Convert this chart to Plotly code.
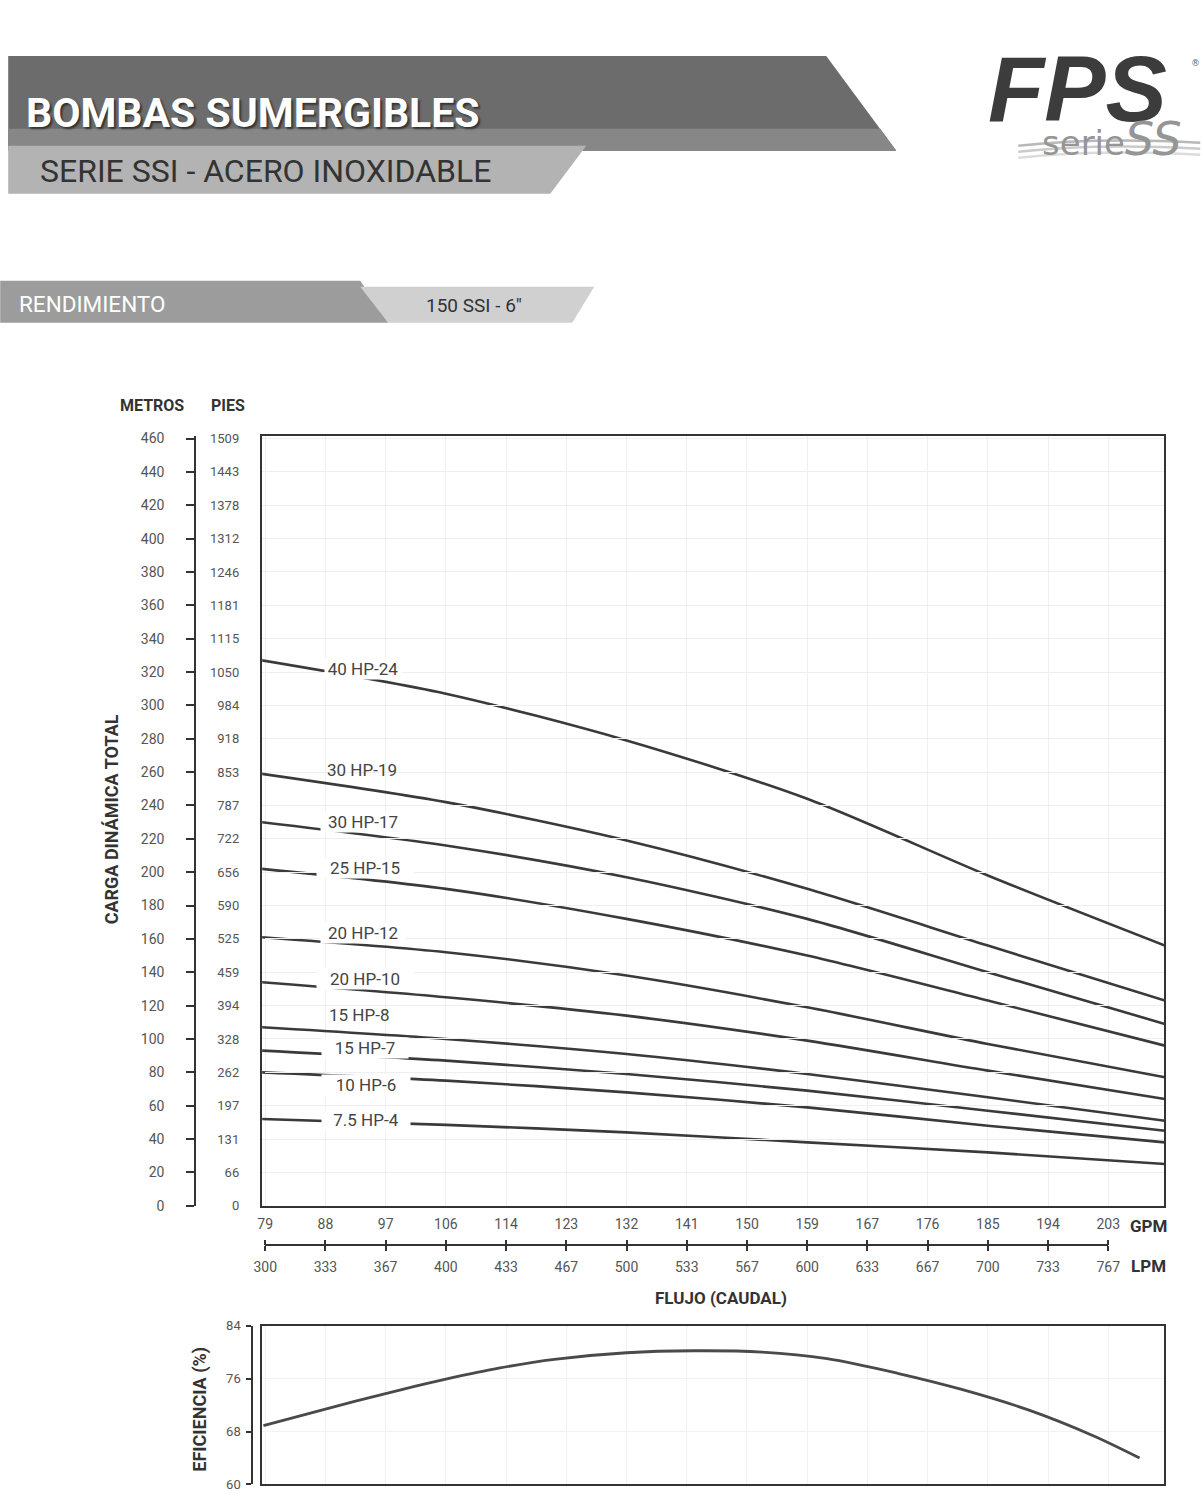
import plotly.graph_objects as go

# ---------------- page geometry helpers (reference pixels -> paper fractions) ----------------
W, H = 1204, 1494
# measured mapping between figure pixels and the photographed picture
SX, BX, SY, BY = 0.98, 11.8, 0.991, 6.0


def px(x):
    return ((x - BX) / SX) / W


def py(y):
    return 1 - ((y - BY) / SY) / H


FONT = "Roboto, Lato, sans-serif"
LINE = "#3a3a3a"

# ---------------- data ----------------
flow_lpm = [298, 400, 500, 600, 700, 798]

curve_names = ["40 HP-24", "30 HP-19", "30 HP-17", "25 HP-15", "20 HP-12",
               "20 HP-10", "15 HP-8", "15 HP-7", "10 HP-6", "7.5 HP-4"]

head_40hp_24 = [327, 307, 279, 244, 198, 156]
head_30hp_19 = [259, 242, 219, 190, 156, 123]
head_30hp_17 = [230, 216, 197, 172, 140, 109]
head_25hp_15 = [202, 190, 172, 150, 123, 96]
head_20hp_12 = [161, 152, 138, 119, 97, 77]
head_20hp_10 = [134, 125, 114, 99, 81, 64]
head_15hp_8 = [107, 100, 91, 79, 65, 51]
head_15hp_7 = [93, 87, 79, 69, 57, 45]
head_10hp_6 = [80, 75, 68, 59, 48, 38]
head_7hp5_4 = [52, 48.5, 44, 38, 32, 25]

heads = [head_40hp_24, head_30hp_19, head_30hp_17, head_25hp_15, head_20hp_12,
         head_20hp_10, head_15hp_8, head_15hp_7, head_10hp_6, head_7hp5_4]

eff_lpm = [299, 350, 375, 400, 430, 460, 500, 537, 575, 611, 650, 685, 722, 758, 784]
eff_pct = [68.9, 72.6, 74.3, 75.9, 77.6, 78.9, 79.9, 80.2, 80.0, 79.0, 76.8, 74.4, 71.3, 67.4, 64.0]

lpm_ticks = [300, 333.33, 366.67, 400, 433.33, 466.67, 500, 533.33, 566.67, 600,
             633.33, 666.67, 700, 733.33, 766.67]
lpm_labels = ["300", "333", "367", "400", "433", "467", "500", "533", "567", "600",
              "633", "667", "700", "733", "767"]
gpm_labels = ["79", "88", "97", "106", "114", "123", "132", "141", "150", "159",
              "167", "176", "185", "194", "203"]

metros_ticks = list(range(0, 461, 20))
pies_labels = ["0", "66", "131", "197", "262", "328", "394", "459", "525", "590", "656",
               "722", "787", "853", "918", "984", "1050", "1115", "1181", "1246", "1312",
               "1378", "1443", "1509"]
eff_ticks = [60, 68, 76, 84]

# ---------------- axis calibration (from reference pixels) ----------------
X_LEFT, X_RIGHT = 262, 1164          # plot box
LPM_PER_PX = (766.67 - 300) / (1108 - 265)
x_range = [300 - (265 - X_LEFT) * LPM_PER_PX, 300 + (X_RIGHT - 265) * LPM_PER_PX]
Y_TOP, Y_BOT = 435, 1206
M_PER_PX = 460 / (1206 - 438)
y_range = [0, (Y_BOT - Y_TOP) * M_PER_PX]
E_TOP, E_BOT = 1326, 1485
e_range = [60, 84]

fig = go.Figure()

for name, h in zip(curve_names, heads):
    fig.add_trace(go.Scatter(x=flow_lpm, y=h, mode="lines", name=name,
                             line=dict(color=LINE, width=2.6, shape="spline", smoothing=0.8),
                             xaxis="x", yaxis="y", showlegend=False, hoverinfo="x+y+name"))

fig.add_trace(go.Scatter(x=eff_lpm, y=eff_pct, mode="lines", name="Eficiencia",
                         line=dict(color="#4a4a4a", width=2.8, shape="spline", smoothing=0.9),
                         xaxis="x4", yaxis="y4", showlegend=False))

# invisible helper traces so every auxiliary axis is drawn
inv = dict(mode="markers", marker=dict(opacity=0), showlegend=False, hoverinfo="skip")
fig.add_trace(go.Scatter(x=[lpm_ticks[0]], y=[0], xaxis="x2", yaxis="y", **inv))
fig.add_trace(go.Scatter(x=[lpm_ticks[0]], y=[0], xaxis="x3", yaxis="y", **inv))
fig.add_trace(go.Scatter(x=[x_range[0]], y=[0], xaxis="x", yaxis="y2", **inv))
fig.add_trace(go.Scatter(x=[x_range[0]], y=[0], xaxis="x", yaxis="y3", **inv))
fig.add_trace(go.Scatter(x=[x_range[0]], y=[70], xaxis="x4", yaxis="y5", **inv))

tickfont = dict(family=FONT, size=14, color="#555555")

fig.update_layout(
    width=W, height=H, margin=dict(l=0, r=0, t=0, b=0),
    paper_bgcolor="white", plot_bgcolor="rgba(0,0,0,0)",
    font=dict(family=FONT, color="#333333"),
    xaxis=dict(domain=[px(X_LEFT), px(X_RIGHT)], range=x_range, anchor="y",
               tickvals=lpm_ticks, showticklabels=False, ticks="",
               showgrid=True, gridcolor="#efefef", gridwidth=1, zeroline=False,
               showline=True, mirror=True, linecolor="#333333", linewidth=2.2),
    yaxis=dict(domain=[py(Y_BOT), py(Y_TOP)], range=y_range, anchor="x",
               tickvals=metros_ticks, showticklabels=False, ticks="",
               showgrid=True, gridcolor="#efefef", gridwidth=1, zeroline=False,
               showline=True, mirror=True, linecolor="#333333", linewidth=2.2),
    # LPM scale (below the tick line)
    xaxis2=dict(domain=[px(265), px(1108)], range=[300, 766.67], anchor="free",
                position=py(1245), side="bottom", tickvals=lpm_ticks, ticktext=lpm_labels,
                ticks="outside", ticklen=5, tickwidth=1.6, tickcolor="#333333",
                showline=True, linecolor="#333333", linewidth=1.8, showgrid=False,
                zeroline=False, tickfont=tickfont, ticklabelstandoff=5),
    # GPM scale (above the tick line)
    xaxis3=dict(overlaying="x2", range=[300, 766.67], anchor="free", position=py(1245),
                side="top", tickvals=lpm_ticks, ticktext=gpm_labels,
                ticks="outside", ticklen=5, tickwidth=1.6, tickcolor="#333333",
                showline=False, showgrid=False, zeroline=False, tickfont=tickfont,
                ticklabelstandoff=5),
    # METROS scale
    yaxis2=dict(overlaying="y", range=y_range, anchor="free", position=px(195), side="left",
                tickvals=metros_ticks, ticks="outside", ticklen=8, tickwidth=2,
                tickcolor="#333333", showline=True, linecolor="#333333", linewidth=2,
                showgrid=False, zeroline=False, tickfont=tickfont, ticklabelstandoff=19),
    # PIES scale
    yaxis3=dict(overlaying="y", range=y_range, anchor="free", position=px(239), side="left",
                tickvals=metros_ticks, ticktext=pies_labels, ticks="", showline=False,
                showgrid=False, zeroline=False,
                tickfont=dict(family=FONT, size=13, color="#555555")),
    # efficiency panel
    xaxis4=dict(domain=[px(X_LEFT), px(X_RIGHT)], range=x_range, anchor="y4",
                tickvals=lpm_ticks, showticklabels=False, ticks="", showgrid=True,
                gridcolor="#f2f2f2", zeroline=False, showline=True, mirror=True,
                linecolor="#333333", linewidth=2.2),
    yaxis4=dict(domain=[py(E_BOT), py(E_TOP)], range=e_range, anchor="x4",
                tickvals=eff_ticks, showticklabels=False, ticks="",
                showgrid=True, gridcolor="#f2f2f2", zeroline=False,
                showline=True, mirror=True, linecolor="#333333", linewidth=2.2),
    yaxis5=dict(overlaying="y4", range=e_range, anchor="free", position=px(252), side="left",
                tickvals=eff_ticks, ticks="outside", ticklen=5, tickwidth=1.6,
                tickcolor="#333333", showline=True, linecolor="#333333", linewidth=1.8,
                showgrid=False, zeroline=False, ticklabelstandoff=3,
                tickfont=dict(family=FONT, size=13, color="#555555")),
)

# ---------------- header graphics ----------------
def poly(points, color):
    path = "M " + " L ".join(f"{px(x):.5f},{py(y):.5f}" for x, y in points) + " Z"
    return dict(type="path", xref="paper", yref="paper", path=path,
                fillcolor=color, line=dict(width=0), layer="below")


shapes = [
    poly([(8, 55), (826, 55), (896, 150), (8, 150)], "#6c6c6c"),
    poly([(8, 128), (880, 128), (896, 150), (8, 150)], "#878787"),
    poly([(8, 145), (586, 145), (550, 193), (8, 193)], "#b3b3b3"),
    poly([(0, 280), (360, 280), (388, 322), (0, 322)], "#9c9c9c"),
    poly([(360, 286), (594, 286), (572, 322), (388, 322)], "#d0d0d0"),
]
# logo waves
for y0, col in [(145, "#b8b8b8"), (151, "#cbcbcb"), (157, "#dcdcdc")]:
    shapes.append(dict(type="path", xref="paper", yref="paper",
                       path=f"M {px(1018):.5f},{py(y0):.5f} Q {px(1100):.5f},{py(y0 - 9):.5f} {px(1200):.5f},{py(y0 - 3):.5f}",
                       line=dict(color=col, width=2.5)))
fig.update_layout(shapes=shapes)

ann = []


def text(t, x, y, size, color="#333333", bold=False, xanchor="center", yanchor="middle",
         angle=0, italic=False, shadow=None, bg=None, width=None, family=FONT):
    s = t
    if bold:
        s = f"<b>{s}</b>"
    if italic:
        s = f"<i>{s}</i>"
    f = dict(family=family, size=size, color=color)
    if shadow:
        f["shadow"] = shadow
    d = dict(text=s, x=px(x), y=py(y), xref="paper", yref="paper", showarrow=False,
             xanchor=xanchor, yanchor=yanchor, textangle=angle, font=f)
    if bg:
        d["bgcolor"] = bg
        d["borderpad"] = 0
    if width:
        d["width"] = width
    ann.append(d)


text("BOMBAS SUMERGIBLES", 24, 112, 41, color="white", bold=True, xanchor="left",
     shadow="2px 2px 2px #333333")
text("SERIE SSI - ACERO INOXIDABLE", 38, 170, 32, color="#333333", xanchor="left")
text("RENDIMIENTO", 17, 303, 22.5, color="white", xanchor="left")
text('150 SSI - 6"', 424, 305, 19, color="#333333", xanchor="left")

# logo
text("FPS", 1077, 88, 92, color="#3c3c3c", bold=True, italic=True,
     family="Liberation Sans, Arial, sans-serif")
text('serie<i><span style="font-size:46px">SS</span></i>', 1112, 138, 34, color="#959595",
     family="DejaVu Sans, sans-serif")
text("®", 1195, 62, 9, color="#666666", family="DejaVu Sans, sans-serif")

# axis titles
text("METROS", 152, 405, 16, bold=True)
text("PIES", 228, 405, 16, bold=True)
text("CARGA DINÁMICA TOTAL", 111, 819, 18, bold=True, angle=-90)
text("GPM", 1148, 1226, 17, bold=True)
text("LPM", 1148, 1266, 17, bold=True)
text("FLUJO (CAUDAL)", 721, 1298, 17, bold=True)
text("EFICIENCIA (%)", 199, 1410, 18, bold=True, angle=-90)

# curve labels (white box interrupts the line like the printed chart)
label_pos = [(363, 669, 76), (362, 770, None), (363, 822, 84), (365, 868, 96),
             (363, 933, 84), (365, 979, 96), (359, 1015, None), (365, 1048, 86),
             (366, 1085, 88), (366, 1120, 88)]
for name, (lx, ly, w) in zip(curve_names, label_pos):
    text(name, lx, ly, 17, color="#444444", bg="white" if w else None, width=w)

fig.update_layout(annotations=ann)

fig.write_html("out.html", config={"displayModeBar": False},
               post_script="document.body.style.margin='0';document.body.style.overflow='hidden';")
